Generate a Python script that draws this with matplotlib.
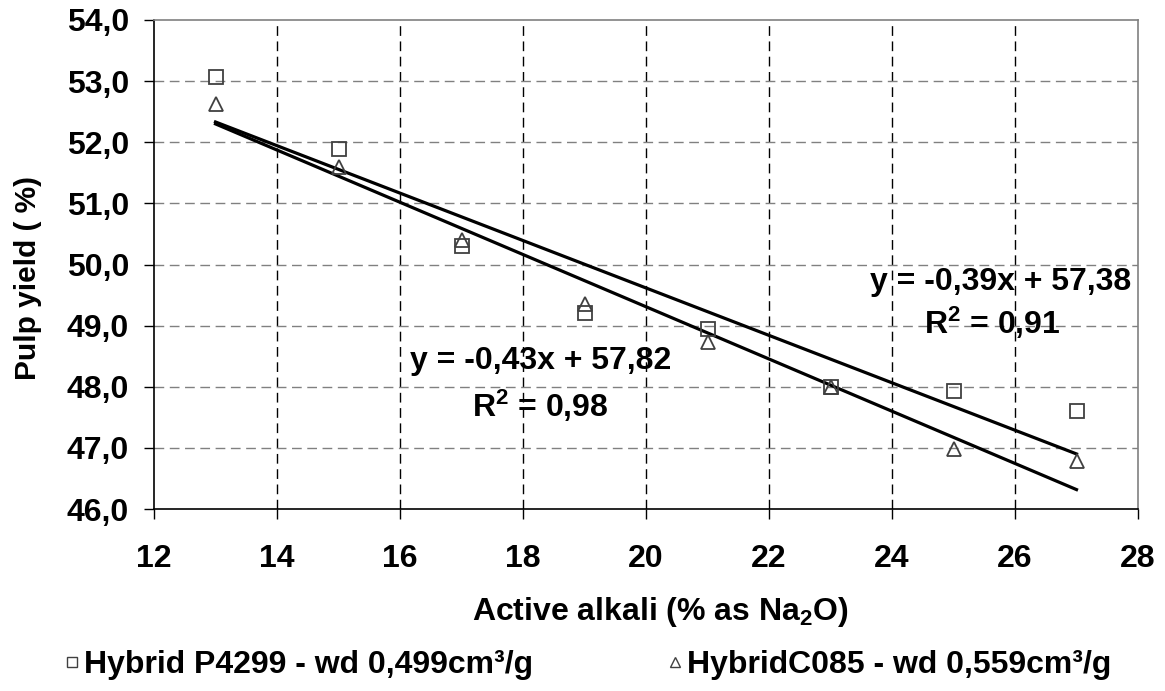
import numpy as np
import matplotlib
matplotlib.use("Agg")
import matplotlib.pyplot as plt
from matplotlib.lines import Line2D

plt.rcParams['font.family'] = ['Liberation Sans', 'DejaVu Sans']
plt.rcParams['font.weight'] = 'bold'
plt.rcParams['mathtext.fontset'] = 'custom'
plt.rcParams['mathtext.rm'] = 'Liberation Sans:bold'
plt.rcParams['mathtext.it'] = 'Liberation Sans:bold'
plt.rcParams['mathtext.bf'] = 'Liberation Sans:bold'
plt.rcParams['mathtext.default'] = 'rm'

# data
alkali = [13, 15, 17, 19, 21, 23, 25, 27]
yield_p4299 = [53.06, 51.89, 50.30, 49.20, 48.95, 48.00, 47.93, 47.60]
yield_c085 = [52.62, 51.60, 50.40, 49.35, 48.74, 48.00, 46.98, 46.78]

xticks = [12, 14, 16, 18, 20, 22, 24, 26, 28]
yticks = [46, 47, 48, 49, 50, 51, 52, 53, 54]
ytick_labels = ['46,0', '47,0', '48,0', '49,0', '50,0', '51,0', '52,0', '53,0', '54,0']

label_p4299 = 'Hybrid P4299 - wd 0,499cm³/g'
label_c085 = 'HybridC085 - wd 0,559cm³/g'

fs = 23
mark_col = '#404040'

fig = plt.figure(figsize=(11.65, 6.91), dpi=100)
W, H = 1165, 691
ax = fig.add_axes([154 / W, 1 - 509 / H, (1138 - 154) / W, (509 - 20) / H])

# grid: vertical black dashed, horizontal grey dashed
for xv in xticks[1:-1]:
    ax.axvline(xv, color='black', lw=1, dashes=(7, 4), zorder=0)
for yv in yticks[1:-1]:
    ax.axhline(yv, color='#808080', lw=1, dashes=(7, 4), zorder=0)

# trendlines from least squares fit
xs = np.array(alkali, dtype=float)
for ys in (yield_p4299, yield_c085):
    m, b = np.polyfit(xs, ys, 1)
    xl = np.array([alkali[0], alkali[-1]], dtype=float)
    ax.plot(xl, m * xl + b, color='black', lw=2.3, zorder=2)

ax.plot(alkali, yield_p4299, linestyle='', marker='s', markersize=10,
        markerfacecolor='none', markeredgecolor=mark_col, mew=1.3, zorder=3)
ax.plot(alkali, yield_c085, linestyle='', marker='^', markersize=10,
        markerfacecolor='none', markeredgecolor=mark_col, mew=1.3, zorder=3)

ax.text(25.76, 49.71, 'y = -0,39x + 57,38', ha='center', va='center', fontsize=fs, fontweight='bold')
ax.text(25.63, 49.04, 'R$^2$ = 0,91', ha='center', va='center', fontsize=fs, fontweight='bold')
ax.text(18.28, 48.42, 'y = -0,43x + 57,82', ha='center', va='center', fontsize=fs, fontweight='bold')
ax.text(18.28, 47.68, 'R$^2$ = 0,98', ha='center', va='center', fontsize=fs, fontweight='bold')

ax.set_xlim(12, 28)
ax.set_ylim(46, 54)
ax.set_xticks(xticks)
ax.set_xticklabels([str(t) for t in xticks], fontsize=fs, fontweight='bold')
ax.set_yticks(yticks)
ax.set_yticklabels(ytick_labels, fontsize=fs, fontweight='bold')
ax.tick_params(axis='x', direction='out', length=7, width=1, pad=18)
ax.tick_params(axis='y', direction='out', length=7, width=1, pad=11)

ax.spines['top'].set_color('#808080')
ax.spines['right'].set_color('#808080')
ax.spines['left'].set_color('black')
ax.spines['bottom'].set_color('black')
for s in ax.spines.values():
    s.set_linewidth(1.2)

fig.text(660 / W, 1 - 612 / H, 'Active alkali (% as Na$_2$O)', ha='center', va='center',
         fontsize=fs, fontweight='bold')
fig.text(28 / W, 1 - 278 / H, 'Pulp yield ( %)', ha='center', va='center', rotation=90,
         fontsize=21.5, fontweight='bold')

# legend: two entries placed separately
h1 = Line2D([], [], linestyle='', marker='s', markersize=7, markerfacecolor='none',
            markeredgecolor=mark_col, mew=1, label=label_p4299)
h2 = Line2D([], [], linestyle='', marker='^', markersize=7, markerfacecolor='none',
            markeredgecolor=mark_col, mew=1, label=label_c085)
for h, x0 in ((h1, 62), (h2, 665)):
    fig.legend(handles=[h], loc='center left', bbox_to_anchor=(x0 / W, 1 - 665 / H),
               frameon=False, handlelength=0.6, handletextpad=0.1,
               borderaxespad=0, borderpad=0, prop={'weight': 'bold', 'size': fs})

fig.savefig('out.png', dpi=100)
